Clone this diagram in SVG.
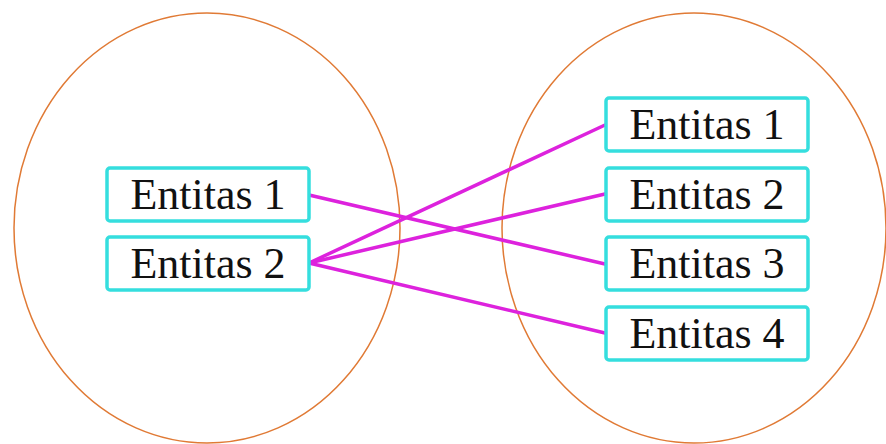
<svg xmlns="http://www.w3.org/2000/svg" width="886" height="444" viewBox="0 0 886 444">
  <style>
    .set { fill: none; stroke: #e07a35; stroke-width: 1.5; }
    .box { fill: #ffffff; stroke: #35dede; stroke-width: 3.5; }
    .label { font-family: "Liberation Serif", "DejaVu Serif", serif; font-size: 44px; fill: #111111; text-anchor: middle; }
    .link { stroke: #dd22dd; stroke-width: 3.5; fill: none; stroke-linecap: round; }
  </style>
  <rect width="886" height="444" fill="#ffffff"/>

  <!-- two sets -->
  <ellipse class="set" cx="207" cy="228" rx="193" ry="215"/>
  <ellipse class="set" cx="694" cy="228" rx="192" ry="215"/>

  <!-- mapping lines -->
  <g id="connectors">
    <line class="link" x1="309" y1="195" x2="605" y2="264"/>
    <line class="link" x1="309" y1="263" x2="605" y2="125"/>
    <line class="link" x1="309" y1="263" x2="605" y2="194"/>
    <line class="link" x1="309" y1="263" x2="605" y2="333"/>
  </g>

  <!-- left set -->
  <g id="left-e1">
    <rect class="box" x="107" y="168" width="202" height="53" rx="3"/>
    <text class="label" x="208" y="209">Entitas 1</text>
  </g>
  <g id="left-e2">
    <rect class="box" x="107" y="237" width="202" height="53" rx="3"/>
    <text class="label" x="208" y="278">Entitas 2</text>
  </g>

  <!-- right set -->
  <g id="right-e1">
    <rect class="box" x="606" y="98" width="202" height="53" rx="3"/>
    <text class="label" x="707" y="139">Entitas 1</text>
  </g>
  <g id="right-e2">
    <rect class="box" x="606" y="168" width="202" height="53" rx="3"/>
    <text class="label" x="707" y="209">Entitas 2</text>
  </g>
  <g id="right-e3">
    <rect class="box" x="606" y="237" width="202" height="53" rx="3"/>
    <text class="label" x="707" y="278">Entitas 3</text>
  </g>
  <g id="right-e4">
    <rect class="box" x="606" y="307" width="202" height="53" rx="3"/>
    <text class="label" x="707" y="348">Entitas 4</text>
  </g>
</svg>
